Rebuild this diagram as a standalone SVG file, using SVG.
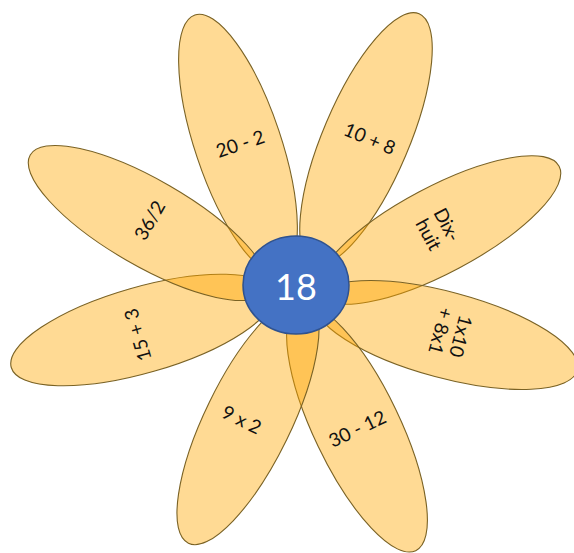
<svg xmlns="http://www.w3.org/2000/svg" width="574" height="553" viewBox="0 0 574 553">
<style>
.petal{fill:#FFA800;fill-opacity:0.42;stroke:#7A6224;stroke-width:1.1}
.lbl{font-family:Lato,"Open Sans","Liberation Sans",sans-serif;font-size:19px;fill:#111;text-anchor:middle;dominant-baseline:central}
.center{fill:#4472C4;stroke:#2F528F;stroke-width:1.5}
.num{font-family:Lato,"Open Sans","Liberation Sans",sans-serif;font-size:36px;fill:#fff;text-anchor:middle;dominant-baseline:central}
</style>
<rect width="574" height="553" fill="#fff"/>
<g id="petal-20-2">
<ellipse class="petal" cx="0" cy="0" rx="136" ry="43" transform="translate(238,144) rotate(71.5)"/>
<text class="lbl" transform="translate(240,143) rotate(-18.5)">20 - 2</text>
</g>
<g id="petal-10-8">
<ellipse class="petal" cx="0" cy="0" rx="136" ry="43" transform="translate(366,139) rotate(113)"/>
<text class="lbl" transform="translate(370,138) rotate(23)">10 + 8</text>
</g>
<g id="petal-dixhuit">
<ellipse class="petal" cx="0" cy="0" rx="136" ry="43" transform="translate(439,230) rotate(-28)"/>
<text class="lbl" transform="translate(439,229) rotate(62)"><tspan x="0" dy="-0.55em">Dix-</tspan><tspan x="0" dy="1.1em">huit</tspan></text>
</g>
<g id="petal-1x10">
<ellipse class="petal" cx="0" cy="0" rx="136" ry="43" transform="translate(446,335) rotate(15)"/>
<text class="lbl" transform="translate(452,334) rotate(105)"><tspan x="0" dy="-0.55em">1x10</tspan><tspan x="0" dy="1.1em">+ 8x1</tspan></text>
</g>
<g id="petal-30-12">
<ellipse class="petal" cx="0" cy="0" rx="136" ry="43" transform="translate(357,428) rotate(64.4)"/>
<text class="lbl" transform="translate(357,428) rotate(-25.6)">30 - 12</text>
</g>
<g id="petal-9x2">
<ellipse class="petal" cx="0" cy="0" rx="136" ry="43" transform="translate(248,421) rotate(116)"/>
<text class="lbl" transform="translate(242,419) rotate(26)">9 x 2</text>
</g>
<g id="petal-15-3">
<ellipse class="petal" cx="0" cy="0" rx="136" ry="43" transform="translate(142,330) rotate(-16)"/>
<text class="lbl" transform="translate(137,335) rotate(-106)">15 + 3</text>
</g>
<g id="petal-36-2">
<ellipse class="petal" cx="0" cy="0" rx="136" ry="43" transform="translate(148,223) rotate(30)"/>
<text class="lbl" transform="translate(149,220) rotate(-60)">36/2</text>
</g>
<g id="center">
<ellipse class="center" cx="296" cy="285" rx="53" ry="49"/>
<text class="num" x="296" y="286">18</text>
</g>
<g id="connectors"/>
</svg>
